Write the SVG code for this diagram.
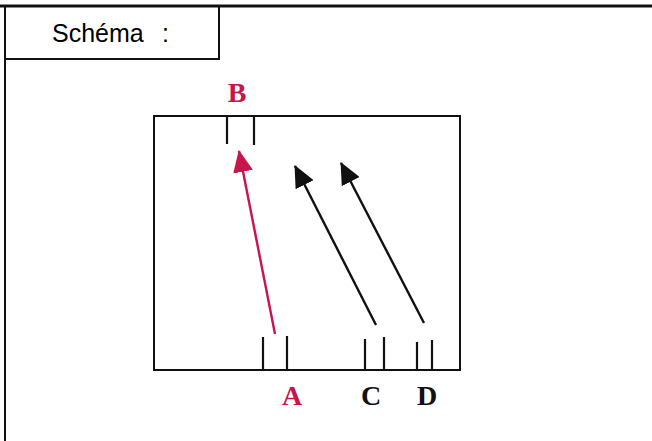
<svg xmlns="http://www.w3.org/2000/svg" width="652" height="441" viewBox="0 0 652 441">
<style>
.frame{fill:none;stroke:#111;stroke-width:2}
.tick{stroke:#111;stroke-width:2.2}
.lbl{font-family:"Liberation Serif",serif;font-weight:bold;font-size:28px;text-anchor:middle}
.title{font-family:"Liberation Sans",sans-serif;font-size:25px}
</style>
<defs>
<marker id="ab" viewBox="0 0 22 20" refX="21" refY="10" markerWidth="22" markerHeight="20" markerUnits="userSpaceOnUse" orient="auto">
<path d="M0,0 L22,10 L0,20 z" fill="#111"/>
</marker>
<marker id="ar" viewBox="0 0 22 20" refX="21" refY="10" markerWidth="22" markerHeight="20" markerUnits="userSpaceOnUse" orient="auto">
<path d="M0,0 L22,10 L0,20 z" fill="#c8154c"/>
</marker>
</defs>
<rect width="652" height="441" fill="#fff"/>
<g id="frame">
<line x1="0" y1="6" x2="652" y2="6" stroke="#111" stroke-width="3"/>
<line x1="5" y1="6" x2="5" y2="441" stroke="#111" stroke-width="2"/>
</g>
<g id="title">
<rect x="5" y="6" width="214" height="53" class="frame"/>
<text x="52" y="42" class="title">Schéma</text>
<text x="162" y="42" class="title">:</text>
</g>
<g id="box">
<rect x="154" y="116" width="306" height="254" class="frame"/>
</g>
<g id="B">
<line x1="227" y1="116" x2="227" y2="144" class="tick"/>
<line x1="254" y1="116" x2="254" y2="145" class="tick"/>
<text x="237" y="102" class="lbl" fill="#c8154c">B</text>
</g>
<g id="A">
<line x1="263" y1="337" x2="263" y2="370" class="tick"/>
<line x1="287" y1="336" x2="287" y2="370" class="tick"/>
<text x="292" y="405" class="lbl" fill="#c8154c">A</text>
</g>
<g id="C">
<line x1="365" y1="339" x2="365" y2="370" class="tick"/>
<line x1="384" y1="337" x2="384" y2="370" class="tick"/>
<text x="371" y="405" class="lbl" fill="#111">C</text>
</g>
<g id="D">
<line x1="417" y1="342" x2="417" y2="370" class="tick"/>
<line x1="432" y1="340" x2="432" y2="370" class="tick"/>
<text x="427" y="405" class="lbl" fill="#111">D</text>
</g>
<g id="connectors">
<line x1="275" y1="334" x2="239" y2="151" stroke="#c8154c" stroke-width="2.4" marker-end="url(#ar)"/>
<line x1="376" y1="325" x2="295" y2="166" stroke="#111" stroke-width="2.4" marker-end="url(#ab)"/>
<line x1="424" y1="323" x2="341" y2="163" stroke="#111" stroke-width="2.4" marker-end="url(#ab)"/>
</g>
</svg>
